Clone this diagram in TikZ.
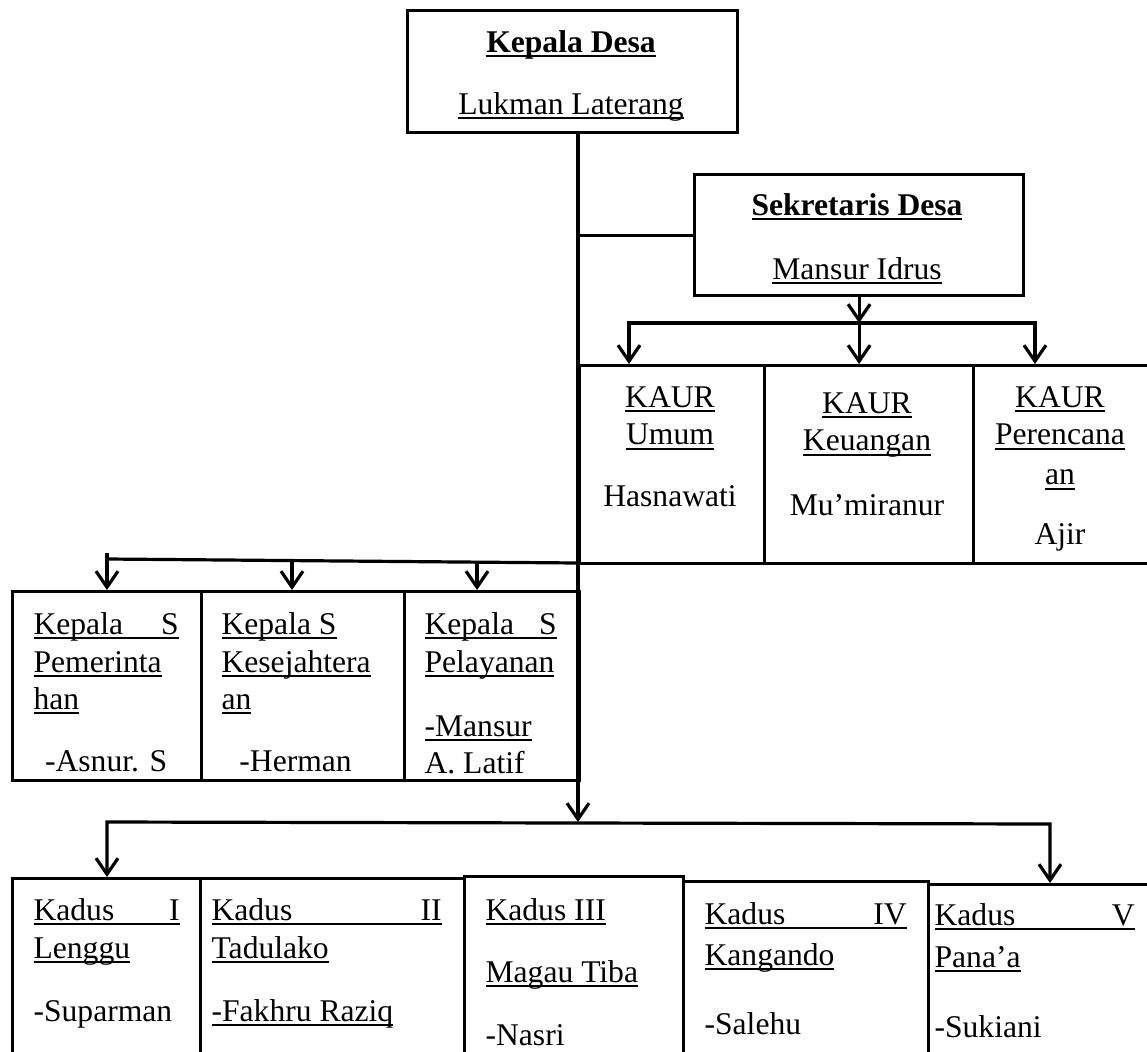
\documentclass[tikz,border=0pt]{standalone}
\usepackage{fontspec}
\setmainfont{Liberation Serif}
\usepackage{tikz}
\usetikzlibrary{arrows.meta}

\newsavebox\ulbox
\newcommand{\undl}[1]{\sbox\ulbox{#1}\rlap{\rule[-2.4pt]{\wd\ulbox}{1pt}}\usebox\ulbox}
\newcommand{\jline}[2]{\undl{\makebox[#1][s]{#2}}}

\begin{document}
\begin{tikzpicture}[x=0.5pt,y=-0.5pt,line width=1.6pt,
  >={Straight Barb[length=8pt,width=11pt]},
  box/.style 2 args={draw,anchor=north west,inner sep=0pt,minimum width=#1,minimum height=#2},
  txt/.style={inner sep=0pt,font=\fontsize{15.8}{18.75}\selectfont}]
   \useasboundingbox (0,0) rectangle (1147,1051);
   \clip (0,0) rectangle (1147,1051);

   \node[box={165pt}{61pt}] (kades) at (406,9) {};
   \node[box={164.5pt}{60.5pt}] (sekdes) at (693,173) {};
   \node[box={92.5pt}{99pt}] (kaur1) at (578,364) {};
   \node[box={104.5pt}{99pt}] (kaur2) at (763,364) {};
   \node[box={95pt}{99pt}] (kaur3) at (972,364) {};
   \node[box={94.5pt}{94.5pt}] (ks1) at (11,590) {};
   \node[box={101.5pt}{94.5pt}] (ks2) at (200,590) {};
   \node[box={87.5pt}{94.5pt}] (ks3) at (403,590) {};
   \node[box={94pt}{100pt}] (kd1) at (11,877) {};
   \node[box={132pt}{100pt}] (kd2) at (199,877) {};
   \node[box={109.5pt}{100pt}] (kd3) at (463,875) {};
   \node[box={122.5pt}{100pt}] (kd4) at (682,880) {};
   \node[box={120pt}{100pt}] (kd5) at (927,883) {};

   \node[txt,align=center,anchor=north] (kadest) at (571,29)
      {\textbf{\undl{Kepala Desa}}\\[12.25pt]\undl{Lukman Laterang}};
   \node[txt,align=center,anchor=north] (sekdest) at (857,192)
      {\textbf{\undl{Sekretaris Desa}}\\[13.25pt]\undl{Mansur Idrus}};
   \node[txt,align=center,anchor=north] (kaur1t) at (670,385)
      {\undl{KAUR}\\\undl{Umum}\\[12.25pt]Hasnawati};
   \node[txt,align=center,anchor=north] (kaur2t) at (867,391)
      {\undl{KAUR}\\\undl{Keuangan}\\[13.75pt]Mu’miranur};
   \node[txt,align=center,anchor=north] (kaur3t) at (1060,385)
      {\undl{KAUR}\\\undl{Perencana}\\[1.25pt]\undl{an}\\[11.25pt]Ajir};
   \node[txt,align=left,anchor=north west] (ks1t) at (32,611)
      {\jline{72.5pt}{Kepala S}\\\undl{Pemerinta}\\\undl{han}\\[12.25pt]\makebox[72.5pt]{-Asnur. S}};
   \node[txt,align=left,anchor=north west] (ks2t) at (220,611)
      {\undl{Kepala S}\\\undl{Kesejahtera}\\\undl{an}\\[12.25pt]\makebox[74pt]{-Herman}};
   \node[txt,align=left,anchor=north west] (ks3t) at (423,611)
      {\jline{66pt}{Kepala S}\\\undl{Pelayanan}\\[13.25pt]\undl{-Mansur}\\A. Latif};
   \node[txt,align=left,anchor=north west] (kd1t) at (32,897)
      {\jline{73pt}{Kadus I}\\\undl{Lenggu}\\[12.75pt]-Suparman};
   \node[txt,align=left,anchor=north west] (kd2t) at (210,897)
      {\jline{115pt}{Kadus II}\\\undl{Tadulako}\\[12.75pt]\undl{-Fakhru Raziq}};
   \node[txt,align=left,anchor=north west] (kd3t) at (484,897)
      {\undl{Kadus III}\\[12.25pt]\undl{Magau Tiba}\\[12.75pt]-Nasri};
   \node[txt,align=left,anchor=north west] (kd4t) at (703,901)
      {\jline{101pt}{Kadus IV}\\[1.75pt]\undl{Kangando}\\[15.75pt]-Salehu};
   \node[txt,align=left,anchor=north west] (kd5t) at (933,902)
      {\jline{100pt}{Kadus V}\\[2.25pt]\undl{Pana’a}\\[16.25pt]-Sukiani};

   \coordinate (kbl) at (629,323);
   \coordinate (kbr) at (1035,323);
   \coordinate (sbl) at (107,559);
   \coordinate (sbr) at (578,563);
   \coordinate (sb2) at (292,561);
   \coordinate (sb3) at (477,562);
   \coordinate (kdl) at (107,822);
   \coordinate (kdr) at (1050,824);

   \draw[->] (kades.south -| kaur1.west) -- (kaur1.west |- kdl);
   \draw (sekdes.west -| kaur1.west) -- (sekdes.west);
   \draw[->] (sekdes.south) -- (sekdes.south |- kbl);
   \draw[<->] (kbl |- kaur1.north) -- (kbl) -- (kbr) -- (kbr |- kaur3.north);
   \draw[->] (sekdes.south |- kbl) -- (sekdes.south |- kaur2.north);
   \draw (sbl) -- (sbr);
   \draw[->] ([yshift=3pt]sbl) -- (sbl |- ks1.north);
   \draw[->] (sb2) -- (sb2 |- ks2.north);
   \draw[->] (sb3) -- (sb3 |- ks3.north);
   \draw[<->] (kdl |- kd1.north) -- (kdl) -- (kdr) -- (kdr |- kd5.north);
\end{tikzpicture}
\end{document}
